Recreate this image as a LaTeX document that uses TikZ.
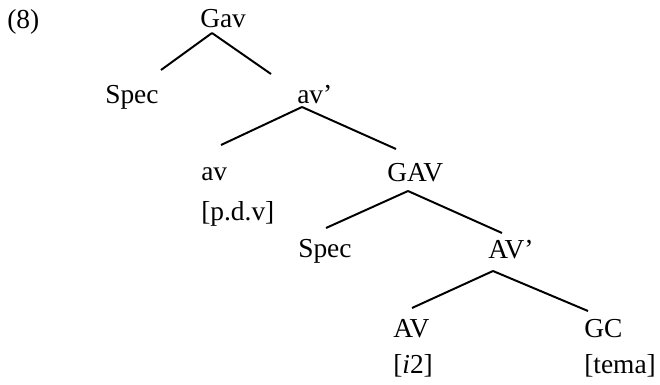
\documentclass[tikz,border=0pt]{standalone}
\usepackage{fontspec}
\setmainfont{Liberation Serif}
\begin{document}
\begin{tikzpicture}[lab/.style={anchor=base west,inner sep=0pt,font=\fontsize{19.5}{23}\selectfont},
        branch/.style={line width=1.4pt}]
        \useasboundingbox (0,0) rectangle (16.5,9.6);

        \node[lab] (num) at (0.175,8.9) {(8)};
        \node[lab] (Gav) at (5,8.925) {Gav};
        \node[lab] (SpecA) at (2.625,7.025) {Spec};
        \node[lab] (avp) at (7.425,7.025) {av’};
        \node[lab] (av) at (5.025,5.1) {av};
        \node[lab] (pdv) at ([yshift=-1cm]av.base west) {[p.d.v]};
        \node[lab] (GAV) at (9.675,5.075) {GAV};
        \node[lab] (SpecB) at (7.45,3.175) {Spec};
        \node[lab] (AVp) at (12.2,3.15) {AV’};
        \node[lab] (AV) at (9.825,1.175) {AV};
        \node[lab] (itwo) at ([yshift=-0.9cm]AV.base west) {[\textit{i}2]};
        \node[lab] (GC) at (14.6,1.175) {GC};
        \node[lab] (tema) at ([yshift=-0.9cm]GC.base west) {[tema]};

        \draw[branch] ([shift={(0.3,-0.15)}]Gav.base west) -- ([shift={(1.4,0.825)}]SpecA.base west);
        \draw[branch] ([shift={(0.3,-0.15)}]Gav.base west) -- ([shift={(-0.65,0.725)}]avp.base west);
        \draw[branch] ([shift={(0.125,-0.1)}]avp.base west) -- ([shift={(0.5,0.875)}]av.base west);
        \draw[branch] ([shift={(0.125,-0.1)}]avp.base west) -- ([shift={(0.225,0.8)}]GAV.base west);
        \draw[branch] ([shift={(0.525,-0.25)}]GAV.base west) -- ([shift={(0.7,0.725)}]SpecB.base west);
        \draw[branch] ([shift={(0.525,-0.25)}]GAV.base west) -- ([shift={(0.35,0.625)}]AVp.base west);
        \draw[branch] ([shift={(0.125,-0.325)}]AVp.base west) -- ([shift={(0.475,0.725)}]AV.base west);
        \draw[branch] ([shift={(0.125,-0.325)}]AVp.base west) -- ([shift={(0.1,0.65)}]GC.base west);

    \end{tikzpicture}
\end{document}
